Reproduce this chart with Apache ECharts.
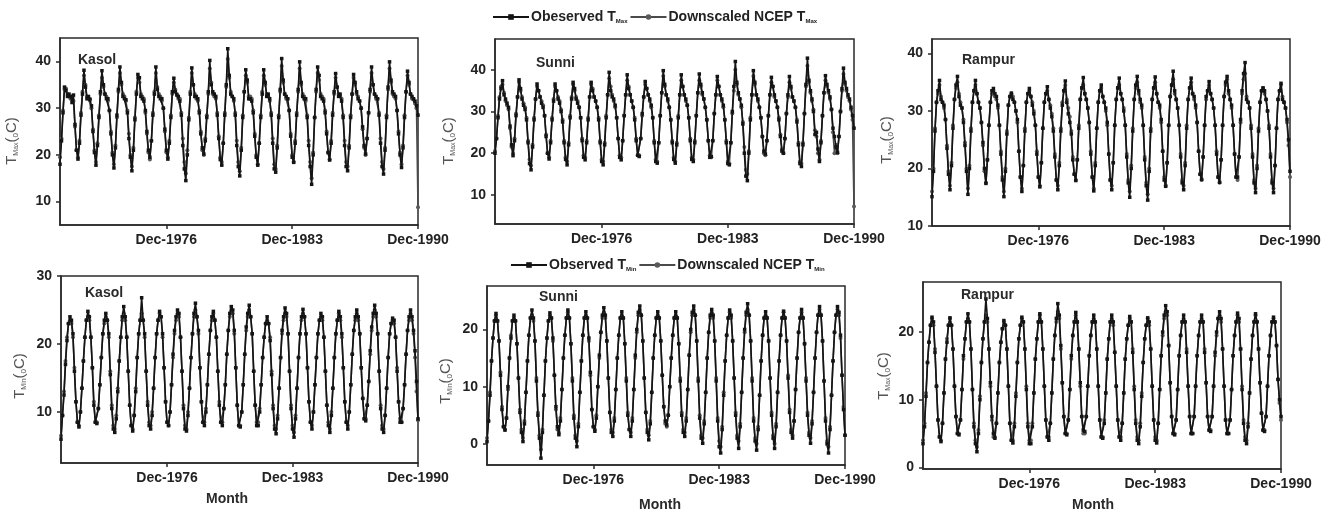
<!DOCTYPE html>
<html><head><meta charset="utf-8">
<script src="https://cdn.jsdelivr.net/npm/echarts@6/dist/echarts.min.js"></script>
<style>html,body{margin:0;padding:0;background:#fff}#c{width:1332px;height:513px}</style>
</head><body><div id="c"></div>
<script>
const monthNames = ['Jan','Feb','Mar','Apr','May','Jun','Jul','Aug','Sep','Oct','Nov','Dec'];
const years = [1971,1972,1973,1974,1975,1976,1977,1978,1979,1980,1981,1982,1983,1984,1985,1986,1987,1988,1989,1990];
const xTickLabels = ['Dec-1976','Dec-1983','Dec-1990'];
const yTicksKasolMax = [10,20,30,40];
const yTicksSunniMax = [10,20,30,40];
const yTicksRampurMax = [10,20,30,40];
const yTicksKasolMin = [10,20,30];
const yTicksSunniMin = [0,10,20];
const yTicksRampurMin = [0,10,20];

const kasolTmaxObs = [
18.0,23.0,29.0,34.5,33.8,32.5,33.0,32.5,31.2,32.8,26.5,21.0,
19.1,22.5,28.5,33.0,38.1,34.5,32.0,32.5,31.8,30.5,25.0,20.5,
17.8,22.0,28.0,33.5,38.0,35.0,33.0,32.0,32.0,29.5,24.5,20.0,
17.2,21.5,28.5,34.0,38.8,35.5,32.5,32.0,31.8,29.0,23.5,19.5,
16.6,21.0,27.5,33.0,37.2,36.5,32.5,32.0,31.5,29.5,25.0,21.0,
19.5,23.0,28.5,33.0,38.8,34.0,32.5,32.0,32.0,30.0,25.5,21.0,
19.1,22.5,28.0,33.5,36.4,33.5,32.8,32.5,31.5,28.5,22.0,17.0,
14.5,20.0,27.5,33.0,38.6,35.0,32.5,32.5,32.0,29.0,24.5,21.5,
20.2,23.0,28.0,33.5,40.2,35.0,33.5,33.0,32.5,28.5,23.5,19.0,
17.8,22.5,28.5,35.0,42.7,37.0,33.0,32.5,32.0,28.5,22.0,17.5,
15.5,21.0,28.0,33.5,38.2,36.0,32.0,32.0,31.5,29.0,24.0,19.5,
17.8,22.5,28.0,33.0,38.2,35.5,32.5,33.0,32.0,28.5,22.5,17.0,
16.3,21.5,28.0,34.0,40.6,36.0,33.0,32.5,32.0,29.5,24.0,19.5,
18.4,22.5,28.5,34.0,39.9,35.5,32.5,32.0,32.0,28.0,22.0,17.5,
13.7,20.0,28.0,34.0,38.8,37.0,32.5,32.0,31.5,29.0,24.5,20.5,
18.9,22.5,28.5,33.5,37.4,34.5,32.5,33.0,31.5,28.0,22.0,17.5,
16.6,21.5,28.0,33.0,37.2,35.5,33.5,32.0,31.5,30.0,26.0,22.0,
20.2,23.5,29.0,34.0,38.8,35.0,33.0,32.5,32.0,28.5,22.5,17.5,
15.9,21.0,28.0,34.5,39.9,36.0,33.5,33.0,32.5,29.5,24.5,20.0,
17.3,21.5,28.0,33.5,37.9,35.5,33.0,32.5,32.0,31.5,30.5,28.5
];
const kasolTmaxDs = [
19.5,23.5,29.5,34.0,34.2,33.0,32.5,32.0,32.5,31.5,26.0,21.0,
19.5,23.0,29.0,33.5,37.0,35.0,32.5,32.0,32.0,30.0,25.5,21.0,
18.5,22.5,28.5,33.0,36.5,34.5,33.0,32.5,31.5,29.5,25.0,20.5,
18.0,22.0,28.0,33.5,37.5,35.0,33.0,32.5,31.5,29.5,24.5,20.0,
17.5,21.5,28.0,33.5,36.5,35.5,33.0,32.5,32.0,29.0,24.5,20.5,
19.0,23.0,29.0,33.5,37.5,34.5,33.0,32.5,31.5,30.0,25.0,20.5,
19.5,23.0,28.5,33.0,35.5,34.0,33.0,32.0,32.0,29.0,23.5,18.5,
16.0,21.0,28.0,33.5,37.5,35.0,33.0,32.0,31.5,29.5,25.0,21.0,
20.0,23.5,28.5,33.0,38.5,35.5,33.0,32.5,32.0,29.0,24.0,19.5,
18.5,22.5,29.0,34.5,40.5,36.5,33.5,32.5,31.5,29.0,23.0,18.5,
16.5,21.5,28.5,33.5,37.0,35.5,32.5,32.5,32.0,29.5,24.5,20.0,
18.0,22.5,28.5,33.5,37.0,35.0,33.0,32.5,31.5,29.0,23.5,18.0,
17.0,22.0,28.5,33.5,39.0,35.5,33.0,32.0,32.0,29.5,24.5,20.0,
18.5,23.0,29.0,33.5,38.5,35.0,33.0,32.5,31.5,28.5,23.0,18.5,
15.0,20.5,28.0,33.5,37.5,36.0,33.0,32.5,32.0,29.5,25.0,20.5,
19.0,23.0,29.0,33.0,36.5,34.5,33.0,32.5,32.0,28.5,23.0,18.5,
17.5,22.0,28.5,33.0,36.5,35.0,33.0,32.5,31.5,30.0,25.5,21.5,
20.0,23.5,29.0,33.5,37.5,35.0,33.0,32.0,32.0,29.0,23.5,18.5,
17.0,21.5,28.5,34.0,38.5,35.5,33.0,32.5,32.0,29.5,25.0,20.5,
18.0,22.0,28.5,33.5,37.0,35.0,33.0,32.0,32.0,31.0,30.0,8.8
];
const sunniTmaxObs = [
20.0,23.5,28.5,33.0,35.5,37.4,34.0,33.0,32.0,31.0,26.5,22.0,
19.4,23.0,29.0,33.5,37.6,35.5,33.0,31.5,30.5,28.0,22.5,17.5,
16.0,21.5,28.0,33.0,36.6,35.0,33.5,32.0,31.0,29.0,24.0,20.0,
18.6,22.5,28.0,32.5,36.6,35.0,33.0,32.0,30.0,27.5,22.5,18.5,
17.2,22.0,28.5,33.0,37.0,35.5,33.0,32.0,31.0,28.5,23.0,19.0,
18.4,22.5,28.0,33.5,37.0,35.0,33.5,32.5,31.0,28.0,22.5,18.0,
17.2,22.0,28.5,34.0,39.4,35.0,33.5,33.0,31.5,28.5,23.5,19.0,
18.4,23.0,29.0,34.0,38.8,35.5,34.0,32.5,31.0,28.0,23.0,19.5,
19.2,23.5,29.5,33.5,37.2,35.5,34.0,33.0,31.5,28.5,22.5,18.0,
17.6,22.5,29.0,34.5,39.8,36.5,34.0,33.0,31.0,28.0,22.5,18.5,
17.6,22.0,28.5,34.0,38.8,36.0,34.0,33.0,31.5,28.5,23.0,18.5,
18.0,22.5,29.0,34.5,39.0,36.5,34.5,33.0,31.0,28.0,23.0,19.0,
19.2,23.0,29.5,34.0,38.4,36.0,34.0,33.0,31.5,28.0,22.5,17.5,
17.2,22.5,30.0,36.0,42.0,37.0,34.5,33.0,31.5,27.0,20.0,14.5,
13.4,20.0,28.0,34.0,39.8,37.0,34.0,33.0,31.0,28.5,24.0,20.5,
19.8,23.0,29.0,34.0,38.2,36.0,34.0,32.5,31.0,28.0,24.0,20.5,
20.0,23.5,29.5,34.0,38.4,36.0,33.5,32.5,31.0,27.5,22.0,17.5,
16.8,22.0,29.5,36.5,42.8,37.5,35.0,33.0,30.0,24.5,25.0,21.0,
18.0,22.5,29.0,34.5,38.6,36.5,35.0,33.5,30.5,26.0,24.0,21.5,
20.2,24.0,30.0,35.5,40.4,37.0,35.5,34.0,33.0,31.0,29.0,26.0
];
const sunniTmaxDs = [
20.5,23.5,29.0,33.5,36.0,36.5,34.5,32.5,31.5,30.5,26.0,21.5,
20.0,23.5,29.5,33.5,37.0,35.0,33.5,32.0,31.0,28.5,23.0,18.5,
17.0,22.0,28.5,33.0,36.0,35.0,33.5,32.5,31.5,29.0,24.5,20.0,
19.0,23.0,28.5,33.0,36.0,35.0,33.5,32.5,30.5,28.0,23.0,19.0,
18.0,22.5,29.0,33.5,36.5,35.0,33.5,32.5,31.0,28.5,23.5,19.5,
19.0,23.0,28.5,33.5,36.5,35.5,33.5,32.5,31.0,28.5,23.0,18.5,
18.0,22.5,29.0,34.0,38.0,36.0,34.0,32.5,31.0,28.5,23.5,19.5,
19.0,23.0,29.0,34.0,37.5,36.0,34.0,32.5,31.0,28.5,23.5,19.5,
19.5,23.5,29.0,33.5,36.5,35.5,34.0,32.5,31.0,28.5,23.0,18.5,
18.0,22.5,29.0,34.5,38.5,36.0,34.0,32.5,31.0,28.0,23.0,19.0,
18.0,22.5,29.0,34.0,37.5,36.0,34.0,32.5,31.5,28.5,23.5,19.0,
18.5,23.0,29.0,34.5,37.5,36.0,34.0,33.0,31.0,28.0,23.0,19.5,
19.0,23.0,29.5,34.0,37.5,36.0,34.0,32.5,31.0,28.0,23.0,18.0,
17.5,22.5,29.5,35.0,40.0,36.5,34.0,33.0,31.0,27.5,21.5,16.0,
15.0,20.5,28.5,34.0,38.5,36.5,34.0,32.5,31.0,28.5,24.0,20.0,
19.5,23.0,29.0,34.0,37.0,36.0,33.5,32.5,31.0,28.5,24.5,21.0,
20.0,23.5,29.5,33.5,37.0,35.5,33.5,32.5,31.0,28.0,22.5,18.0,
17.5,22.5,29.5,36.0,41.0,37.0,34.5,32.5,30.5,25.5,24.0,20.0,
18.5,23.0,29.0,34.5,37.5,36.0,34.5,33.0,30.5,25.0,20.0,22.0,
20.0,24.0,30.0,35.0,39.0,36.5,35.0,33.5,32.5,30.5,28.0,7.2
];
const rampurTmaxObs = [
15.1,19.5,26.5,31.5,33.5,35.3,32.0,31.5,31.0,28.5,23.5,19.0,
16.3,20.5,27.0,32.0,34.5,36.0,32.5,31.0,30.5,28.0,24.0,19.5,
15.5,20.0,26.5,31.5,33.5,35.3,33.0,31.5,30.5,28.0,24.5,20.0,
17.4,21.5,27.5,31.5,33.5,33.9,33.0,32.5,31.0,27.5,22.5,18.0,
15.1,19.5,26.0,31.0,32.5,33.1,32.0,31.5,30.0,28.5,23.0,18.5,
16.0,20.5,26.5,31.5,33.0,33.9,32.5,31.0,29.5,27.5,22.5,18.5,
16.8,21.0,27.0,31.5,33.0,34.2,32.0,30.5,29.0,26.5,22.0,18.0,
16.3,20.5,26.5,31.0,33.5,35.2,31.5,29.5,28.0,26.0,21.5,19.0,
17.9,21.5,27.0,32.0,34.0,35.8,33.0,32.0,30.5,28.0,22.5,18.5,
16.1,20.5,27.0,31.5,33.5,34.5,32.5,31.5,30.5,28.0,22.5,18.0,
16.3,21.0,27.5,32.0,34.0,35.7,33.0,32.0,30.0,27.5,22.0,17.5,
15.0,20.0,26.5,32.0,34.5,36.0,33.5,32.0,31.0,27.5,21.5,17.0,
14.5,19.5,26.5,32.0,34.0,35.9,33.0,31.5,31.0,28.5,23.0,18.0,
16.9,21.0,27.5,32.5,34.5,36.9,33.5,32.0,30.5,27.5,22.0,17.5,
16.3,20.5,27.0,32.0,34.0,35.7,33.0,32.5,31.0,28.0,23.0,19.0,
18.1,22.0,27.5,32.5,33.5,35.1,33.0,32.0,30.5,27.5,22.5,18.5,
17.6,21.5,27.5,32.5,35.0,36.0,33.5,32.0,31.0,27.5,22.5,18.5,
18.5,22.0,28.5,33.5,36.5,38.4,32.0,31.5,30.5,27.0,22.0,17.5,
15.8,20.0,26.5,31.5,33.5,34.0,33.5,32.0,30.0,27.0,22.0,17.5,
15.8,20.5,27.0,32.0,33.5,34.8,32.0,31.5,30.5,28.5,25.0,19.5
];
const rampurTmaxDs = [
16.0,20.0,27.0,31.5,33.0,34.5,32.5,31.5,30.5,28.5,24.0,19.5,
17.0,21.0,27.5,32.0,34.0,35.0,33.0,31.5,30.5,28.5,24.5,20.0,
16.5,20.5,27.0,31.5,33.5,34.5,33.0,31.5,30.5,28.0,24.0,19.5,
17.5,21.5,27.5,31.5,33.0,33.5,32.5,32.0,30.5,27.5,23.0,18.5,
16.0,20.0,26.5,31.0,32.5,33.0,32.5,31.5,30.0,28.0,23.0,18.5,
16.5,20.5,27.0,31.5,33.0,33.5,32.5,31.5,30.0,27.5,23.0,18.5,
17.0,21.0,27.0,31.5,33.0,33.5,32.0,31.0,29.5,27.0,22.5,18.0,
17.0,21.0,27.0,31.5,33.5,34.5,32.0,30.5,29.0,26.5,22.0,19.0,
18.0,21.5,27.5,32.0,34.0,34.5,33.0,32.0,30.5,28.0,23.0,18.5,
16.5,21.0,27.0,31.5,33.5,34.0,32.5,31.5,30.0,27.5,22.5,18.0,
17.0,21.0,27.5,32.0,34.0,34.5,33.0,32.0,30.5,27.5,22.5,18.0,
16.0,20.5,27.0,32.0,34.0,35.0,33.0,31.5,30.5,27.5,22.0,17.5,
15.5,20.0,27.0,32.0,34.0,35.0,33.0,31.5,30.5,28.0,23.0,18.5,
17.0,21.0,27.5,32.5,34.5,35.5,33.0,32.0,30.5,27.5,22.5,18.0,
17.0,21.0,27.5,32.0,34.0,35.0,33.0,32.0,30.5,28.0,23.0,19.0,
18.0,22.0,27.5,32.0,33.5,34.5,33.0,32.0,30.5,27.5,23.0,18.5,
17.5,21.5,27.5,32.5,34.5,35.5,33.0,32.0,30.5,27.5,22.5,18.5,
18.0,22.0,28.0,33.0,35.5,36.5,32.5,31.5,30.5,27.5,22.5,18.0,
16.5,20.5,27.0,31.5,33.5,34.0,33.0,32.0,30.0,27.5,22.5,18.0,
16.5,20.5,27.0,32.0,33.5,34.5,32.5,31.5,30.5,28.0,24.0,18.5
];
const kasolTminObs = [
6.0,9.5,12.5,17.0,20.5,23.0,24.0,23.5,21.5,16.0,11.5,8.5,
7.8,10.0,13.5,17.5,21.0,23.5,24.8,24.0,21.0,16.5,11.0,8.5,
8.3,10.5,14.0,18.0,21.5,23.5,24.5,23.5,21.5,15.5,10.5,7.5,
7.0,9.0,13.0,17.5,21.0,24.0,25.5,24.0,21.0,16.0,11.0,8.0,
7.2,9.5,13.0,18.0,21.5,23.5,26.8,23.5,21.5,16.0,11.0,8.0,
7.5,9.5,13.5,18.0,21.5,23.5,24.8,24.0,21.5,16.5,11.5,8.5,
8.0,10.0,14.0,18.5,22.0,24.0,25.0,24.5,21.0,16.0,10.5,7.5,
7.2,9.5,13.5,18.0,21.5,24.5,26.0,24.0,22.0,16.5,11.5,8.5,
8.0,10.0,14.0,18.5,22.0,24.0,24.8,23.5,21.0,16.0,11.0,8.5,
8.0,10.5,14.0,18.5,22.0,24.5,25.5,25.0,22.0,16.5,11.0,8.0,
7.8,10.0,14.0,18.5,22.5,24.5,25.7,24.0,21.5,16.0,11.0,8.0,
8.0,10.0,14.0,18.0,21.0,23.0,24.0,23.0,20.5,15.5,10.5,7.5,
6.8,9.0,13.5,18.0,22.0,24.0,25.3,24.5,21.5,16.0,10.5,7.5,
6.3,9.0,13.5,18.0,21.5,24.0,25.1,24.0,21.5,16.5,11.5,8.5,
7.5,10.0,14.0,18.0,21.5,23.5,24.5,24.0,21.0,16.0,11.0,8.0,
7.0,9.5,13.5,18.0,21.5,23.5,24.8,24.0,21.5,16.5,11.5,8.5,
7.5,10.0,14.0,18.5,22.0,24.0,25.0,24.0,21.5,16.5,12.0,9.0,
8.7,11.0,14.5,19.0,22.5,24.5,25.7,24.5,21.5,16.0,10.5,7.5,
7.0,9.5,13.5,18.0,21.5,23.0,23.8,23.5,21.0,16.0,11.5,8.5,
8.5,10.5,14.0,18.5,22.0,24.0,25.0,24.0,22.0,19.0,14.5,9.0
];
const kasolTminDs = [
6.5,9.5,13.0,17.5,21.0,23.0,23.5,23.0,21.0,16.5,11.5,8.5,
8.0,10.0,13.5,17.5,21.0,23.5,24.0,23.5,21.0,16.5,11.5,8.5,
8.5,10.5,14.0,18.0,21.5,23.0,24.0,23.5,21.0,16.0,11.0,8.0,
7.5,9.5,13.5,17.5,21.0,23.5,24.5,23.5,21.0,16.0,11.0,8.0,
7.5,9.5,13.5,18.0,21.5,23.5,24.5,23.5,21.0,16.0,11.5,8.5,
8.0,10.0,13.5,18.0,21.5,23.5,24.5,24.0,21.0,16.5,11.5,8.5,
8.0,10.0,14.0,18.0,21.5,23.5,24.5,24.0,21.0,16.0,11.0,8.0,
7.5,10.0,13.5,18.0,21.5,24.0,25.0,24.0,21.5,16.5,11.5,8.5,
8.5,10.5,14.0,18.5,22.0,23.5,24.5,23.5,21.0,16.0,11.5,8.5,
8.5,10.5,14.0,18.5,22.0,24.0,25.0,24.5,21.5,16.5,11.0,8.0,
8.0,10.0,14.0,18.5,22.0,24.0,25.0,24.0,21.5,16.0,11.0,8.5,
8.5,10.5,14.0,18.0,21.0,23.0,23.5,23.0,21.0,16.0,11.0,8.0,
7.5,9.5,13.5,18.0,21.5,23.5,24.5,24.0,21.5,16.0,11.0,8.0,
7.0,9.5,13.5,18.0,21.5,23.5,24.5,24.0,21.5,16.5,11.5,8.5,
8.0,10.0,14.0,18.0,21.5,23.5,24.0,23.5,21.0,16.0,11.0,8.5,
7.5,10.0,13.5,18.0,21.5,23.5,24.5,23.5,21.0,16.5,11.5,8.5,
8.0,10.0,14.0,18.5,22.0,23.5,24.5,23.5,21.5,16.5,12.0,9.0,
9.0,11.0,14.5,18.5,22.0,24.0,25.0,24.0,21.5,16.0,11.0,8.0,
7.5,9.5,13.5,18.0,21.5,23.0,23.5,23.0,21.0,16.5,11.5,9.0,
8.5,10.5,14.0,18.5,22.0,23.5,24.5,23.5,21.5,18.0,13.0,8.8
];
const sunniTminObs = [
0.4,4.0,8.5,14.5,18.5,21.5,22.8,21.5,18.0,12.0,6.0,3.0,
2.4,4.5,10.0,15.0,18.5,21.5,22.5,21.5,17.5,11.5,5.5,2.0,
0.4,3.5,9.0,14.5,19.0,22.0,23.4,22.0,18.0,11.0,5.0,1.0,
-2.5,2.0,8.5,14.5,18.5,21.5,22.9,22.0,18.5,12.0,6.5,3.0,
1.6,4.0,9.5,15.0,19.0,22.0,23.4,22.0,17.5,11.0,4.5,1.0,
-0.5,3.0,9.0,14.5,19.0,22.0,23.1,22.0,18.5,12.5,6.0,3.0,
2.2,4.5,10.0,15.5,19.5,22.5,23.8,22.5,18.0,11.5,5.5,2.0,
1.3,4.0,9.5,15.0,19.0,22.0,23.1,22.0,17.5,11.0,5.0,2.5,
1.3,4.0,9.5,15.5,20.0,23.0,24.1,22.5,18.0,11.5,5.5,2.0,
0.7,3.5,9.0,15.0,19.0,22.0,23.1,22.0,18.0,12.0,6.5,4.0,
3.3,5.0,10.0,15.0,19.0,22.0,23.1,22.0,17.5,11.0,5.0,2.0,
1.3,4.0,9.5,15.5,20.0,23.0,24.1,22.5,18.0,11.0,4.5,1.0,
0.1,3.5,9.0,15.0,19.5,22.5,23.5,22.5,18.0,11.0,4.0,-0.5,
-1.6,2.5,8.5,14.5,19.0,22.0,23.4,22.5,18.0,11.5,5.0,1.0,
-0.8,3.0,9.0,15.0,20.0,23.0,24.5,22.5,18.0,11.0,4.0,0.5,
-1.1,2.5,8.5,14.5,19.0,22.0,23.1,22.0,18.0,11.5,5.0,1.0,
-0.8,3.0,9.0,14.5,19.0,22.0,23.2,22.0,18.0,11.5,5.5,2.0,
1.0,4.0,9.5,15.0,19.5,22.0,23.5,22.0,17.5,11.0,5.0,1.5,
0.1,3.5,9.0,15.0,19.5,22.5,24.0,22.5,18.0,11.0,4.0,0.0,
-1.6,2.5,8.5,14.5,19.5,22.5,24.0,23.0,19.0,12.0,6.0,1.5
];
const sunniTminDs = [
1.0,4.0,9.0,14.5,18.5,21.5,22.5,21.5,18.0,12.5,6.5,3.0,
2.5,4.5,9.5,15.0,19.0,21.5,22.0,21.5,17.5,11.5,6.0,2.5,
1.0,4.0,9.0,14.5,19.0,22.0,22.5,21.5,18.0,11.5,5.5,1.5,
-1.0,2.5,8.5,14.5,18.5,21.5,22.5,22.0,18.0,12.0,6.0,2.5,
2.0,4.5,9.5,15.0,19.0,22.0,23.0,22.0,17.5,11.5,5.0,1.5,
0.5,3.5,9.0,14.5,19.0,22.0,22.5,22.0,18.0,12.0,6.0,3.0,
2.5,5.0,10.0,15.0,19.5,22.0,23.0,22.0,18.0,11.5,5.5,2.5,
2.0,4.5,9.5,15.0,19.0,22.0,22.5,22.0,17.5,11.5,5.5,2.5,
2.0,4.5,9.5,15.0,19.5,22.5,23.5,22.5,18.0,11.5,5.5,2.5,
1.5,4.0,9.0,15.0,19.0,22.0,22.5,22.0,18.0,12.0,6.5,3.5,
3.0,5.0,10.0,15.0,19.0,22.0,22.5,22.0,17.5,11.5,5.5,2.5,
2.0,4.5,9.5,15.5,19.5,22.5,23.5,22.5,18.0,11.5,5.0,1.5,
1.0,4.0,9.0,15.0,19.5,22.0,23.0,22.0,18.0,11.5,4.5,0.5,
-0.5,3.0,9.0,14.5,19.0,22.0,23.0,22.0,18.0,11.5,5.5,1.5,
0.5,3.5,9.0,15.0,19.5,22.5,23.5,22.5,18.0,11.5,4.5,1.0,
0.0,3.0,8.5,14.5,19.0,22.0,22.5,22.0,18.0,11.5,5.5,1.5,
0.0,3.5,9.0,14.5,19.0,22.0,23.0,22.0,18.0,12.0,6.0,2.5,
1.5,4.0,9.5,15.0,19.5,22.0,23.0,22.0,17.5,11.5,5.5,2.0,
1.0,4.0,9.0,15.0,19.5,22.5,23.5,22.5,18.0,11.0,4.5,0.5,
-0.5,3.0,8.5,14.5,19.5,22.5,23.5,22.5,18.5,12.0,6.5,1.5
];
const rampurTminObs = [
3.5,6.0,10.5,15.5,18.5,21.0,22.2,21.5,17.0,12.0,7.0,4.5,
3.8,6.5,11.0,16.0,18.5,21.0,22.1,21.0,17.5,12.0,7.5,5.0,
4.8,7.0,11.5,16.5,19.0,21.5,22.7,21.5,17.5,11.5,6.0,3.5,
2.3,5.0,10.0,15.5,19.0,21.5,24.9,22.0,17.5,12.5,7.5,5.0,
4.3,6.5,11.0,15.5,18.5,20.5,21.7,21.0,17.5,12.0,6.5,4.0,
3.6,6.0,10.5,15.5,19.0,21.0,22.2,21.5,17.5,11.5,6.0,3.5,
3.5,6.0,11.0,16.0,19.0,21.5,22.7,21.5,17.5,12.0,7.0,4.5,
4.0,6.5,11.0,16.0,19.5,22.0,24.2,22.5,18.0,12.5,7.5,5.0,
4.8,7.0,11.5,16.5,19.5,21.5,22.9,21.5,17.5,12.5,7.5,5.5,
5.3,7.5,12.0,16.5,19.5,21.5,22.5,21.5,17.5,12.0,7.0,4.5,
4.3,6.5,11.0,16.0,19.0,21.5,22.5,21.5,17.0,12.0,7.0,4.5,
4.0,6.5,11.0,16.0,19.0,21.0,22.3,21.5,17.0,11.5,6.5,4.0,
3.5,6.0,10.5,15.5,19.0,21.0,22.1,21.5,17.5,12.0,7.0,4.0,
3.6,6.5,11.5,16.5,20.0,22.5,23.9,23.0,18.0,12.5,7.5,5.0,
4.8,7.0,11.5,16.5,19.5,21.5,22.5,21.5,17.0,12.0,7.5,5.0,
5.0,7.5,12.0,16.5,19.5,21.5,22.5,21.5,17.0,12.5,7.5,5.5,
5.3,7.5,12.0,17.0,20.0,22.0,23.0,22.0,17.5,12.0,7.0,5.0,
5.0,7.0,11.5,16.5,19.5,21.5,22.8,22.0,17.5,11.5,6.5,4.0,
3.5,6.0,11.0,16.0,19.5,21.5,22.7,21.5,17.5,12.5,8.0,5.5,
5.3,7.5,12.0,16.5,19.5,21.5,22.2,21.5,18.0,13.0,10.0,7.5
];
const rampurTminDs = [
4.0,6.5,11.0,15.5,18.5,21.0,22.0,21.0,17.5,12.0,7.0,4.5,
4.0,6.5,11.0,16.0,19.0,21.0,22.0,21.0,17.5,12.0,7.5,5.0,
5.0,7.0,11.5,16.0,19.0,21.5,22.0,21.5,17.5,11.5,6.5,4.0,
3.0,5.5,10.5,15.5,19.0,21.5,22.5,21.5,17.5,12.0,7.0,4.5,
4.5,6.5,11.0,15.5,18.5,20.5,21.5,21.0,17.5,12.0,6.5,4.0,
4.0,6.5,11.0,15.5,19.0,21.0,22.0,21.5,17.5,12.0,6.5,4.0,
4.0,6.5,11.0,16.0,19.0,21.5,22.5,21.5,17.5,12.0,7.0,4.5,
4.5,6.5,11.0,16.0,19.5,21.5,23.0,22.0,17.5,12.5,7.5,5.0,
5.0,7.0,11.5,16.0,19.5,21.5,22.5,21.5,17.5,12.0,7.5,5.0,
5.0,7.5,12.0,16.5,19.5,21.5,22.0,21.5,17.5,12.0,7.0,4.5,
4.5,7.0,11.0,16.0,19.0,21.5,22.0,21.0,17.0,12.0,7.0,4.5,
4.5,6.5,11.0,16.0,19.0,21.0,22.0,21.5,17.5,12.0,7.0,4.5,
4.0,6.5,11.0,15.5,19.0,21.0,22.0,21.0,17.5,12.0,7.0,4.5,
4.0,6.5,11.5,16.5,19.5,22.0,23.0,22.5,18.0,12.5,7.5,5.0,
5.0,7.0,11.5,16.5,19.5,21.5,22.0,21.5,17.5,12.0,7.5,5.0,
5.0,7.5,12.0,16.5,19.5,21.5,22.0,21.5,17.5,12.5,7.5,5.5,
5.5,7.5,12.0,16.5,19.5,22.0,22.5,21.5,17.5,12.0,7.0,5.0,
5.0,7.0,11.5,16.5,19.5,21.5,22.5,21.5,17.5,12.0,7.0,4.5,
4.0,6.5,11.0,16.0,19.5,21.5,22.5,21.5,17.5,12.5,8.0,5.5,
5.5,7.5,12.0,16.5,19.5,21.5,22.0,21.5,18.0,13.0,9.5,7.0
];

// ---------- layout / styling ----------
const months = [];
years.forEach(y => monthNames.forEach(m => months.push(m + '-' + y)));

const FONT = '"Liberation Sans", Arial, sans-serif';
const panels = [
  {obs: kasolTmaxObs, ds: kasolTmaxDs, kind:'Max', station:'Kasol', ticks: yTicksKasolMax,
   g:{left:60, top:38, width:358, height:187}, min:5, max:45, tX:12, tY:141, sX:78, sY:60, titleSub:'Max'},
  {obs: sunniTmaxObs, ds: sunniTmaxDs, kind:'Max', station:'Sunni', ticks: yTicksSunniMax,
   g:{left:495, top:39, width:359, height:185}, min:3, max:47.4, tX:449, tY:141, sX:536, sY:63, titleSub:'Max'},
  {obs: rampurTmaxObs, ds: rampurTmaxDs, kind:'Max', station:'Rampur', ticks: yTicksRampurMax,
   g:{left:932, top:39, width:358, height:187}, min:10, max:42.5, tX:887, tY:140, sX:962, sY:60, titleSub:'Max'},
  {obs: kasolTminObs, ds: kasolTminDs, kind:'Min', station:'Kasol', ticks: yTicksKasolMin,
   g:{left:61, top:276, width:357, height:187}, min:2.5, max:30, tX:20, tY:376, sX:85, sY:293, titleSub:'Min', monthX:227, monthY:499},
  {obs: sunniTminObs, ds: sunniTminDs, kind:'Min', station:'Sunni', ticks: yTicksSunniMin,
   g:{left:487, top:286, width:358, height:179}, min:-3.7, max:27.6, tX:446, tY:381, sX:539, sY:297, titleSub:'Min', monthX:660, monthY:505},
  {obs: rampurTminObs, ds: rampurTminDs, kind:'Min', station:'Rampur', ticks: yTicksRampurMin,
   g:{left:923, top:282, width:358, height:187}, min:-0.25, max:27.4, tX:884, tY:376, sX:961, sY:295, titleSub:'Max', monthX:1093, monthY:505}
];

const legendText = {
  obsMax: '{n|Obeserved T}{s|Max}', dsMax: '{n|Downscaled NCEP T}{s|Max}',
  obsMin: '{n|Observed T}{s|Min}', dsMin: '{n|Downscaled NCEP T}{s|Min}'
};
const AX = '#2a2a2a';
const grids = [], xAxes = [], yAxes = [], series = [], graphics = [];
const isTick = (i, v) => xTickLabels.indexOf(v) >= 0;

panels.forEach((p, i) => {
  grids.push(Object.assign({show:true, borderColor:AX, borderWidth:1.5, containLabel:false}, p.g));
  xAxes.push({
    gridIndex:i, type:'category', data: months, boundaryGap:false,
    axisLine:{onZero:false, lineStyle:{color:AX, width:1.5}},
    axisTick:{show:true, interval:isTick, length:4, lineStyle:{color:AX, width:1.5}},
    axisLabel:{interval:isTick, margin:8, fontSize:14, fontWeight:'bold', color:'#222', fontFamily:FONT},
    splitLine:{show:false}
  });
  yAxes.push({
    gridIndex:i, type:'value', min:p.min, max:p.max,
    axisLine:{show:true, onZero:false, lineStyle:{color:AX, width:1.5}},
    axisTick:{show:true, length:4, customValues:p.ticks, lineStyle:{color:AX, width:1.5}},
    axisLabel:{customValues:p.ticks, margin:9, fontSize:14, fontWeight:'bold', color:'#222', fontFamily:FONT},
    splitLine:{show:false}
  });
  series.push({
    type:'line', name:'obs' + p.kind, xAxisIndex:i, yAxisIndex:i, data:p.obs,
    symbol:'rect', symbolSize:3.5, showSymbol:true, showAllSymbol:true, z:3,
    lineStyle:{color:'#141414', width:1.6}, itemStyle:{color:'#141414'}
  });
  series.push({
    type:'line', name:'ds' + p.kind, xAxisIndex:i, yAxisIndex:i, data:p.ds,
    symbol:'circle', symbolSize:4, showSymbol:true, showAllSymbol:true, z:2,
    lineStyle:{color:'#4a4a4a', width:1.6}, itemStyle:{color:'#5a5a5a'}
  });
  graphics.push({
    type:'text', x:p.sX, y:p.sY, z:10,
    style:{text:p.station, fill:'#2a2a2a', font:'bold 14px ' + FONT, align:'left', verticalAlign:'middle'}
  });
  graphics.push({
    type:'text', x:p.tX, y:p.tY, rotation:Math.PI/2, z:10,
    style:{
      text:'{t|T}{s|' + p.titleSub + '}{t|(}{o|0}{t|C)}',
      align:'center', verticalAlign:'middle', fill:'#555',
      rich:{
        t:{fontSize:15, fontFamily:FONT, fill:'#555', color:'#555'},
        s:{fontSize:7, fontFamily:FONT, fill:'#555', color:'#555', verticalAlign:'bottom'},
        o:{fontSize:8, fontFamily:FONT, fill:'#555', color:'#555', verticalAlign:'bottom'}
      }
    }
  });
  if (p.monthX) {
    graphics.push({
      type:'text', x:p.monthX, y:p.monthY, z:10,
      style:{text:'Month', fill:'#2a2a2a', font:'bold 14px ' + FONT, align:'center', verticalAlign:'middle'}
    });
  }
});

const legendBase = {
  orient:'horizontal', itemWidth:36, itemHeight:7, itemGap:2,
  formatter: n => legendText[n],
  textStyle:{fontFamily:FONT, padding:[0,0,0,-3],
    rich:{
      n:{fontSize:14, fontWeight:'bold', color:'#222', fontFamily:FONT},
      s:{fontSize:6, fontWeight:'bold', color:'#222', fontFamily:FONT, verticalAlign:'bottom'}
    }}
};

const chart = echarts.init(document.getElementById('c'), null, {renderer:'canvas'});
chart.setOption({
  animation:false,
  backgroundColor:'#fff',
  textStyle:{fontFamily:FONT},
  legend:[
    Object.assign({data:['obsMax','dsMax'], left:487, top:5}, legendBase),
    Object.assign({data:['obsMin','dsMin'], left:505, top:253}, legendBase)
  ],
  grid: grids, xAxis: xAxes, yAxis: yAxes, series: series, graphic: graphics
});
</script></body></html>
